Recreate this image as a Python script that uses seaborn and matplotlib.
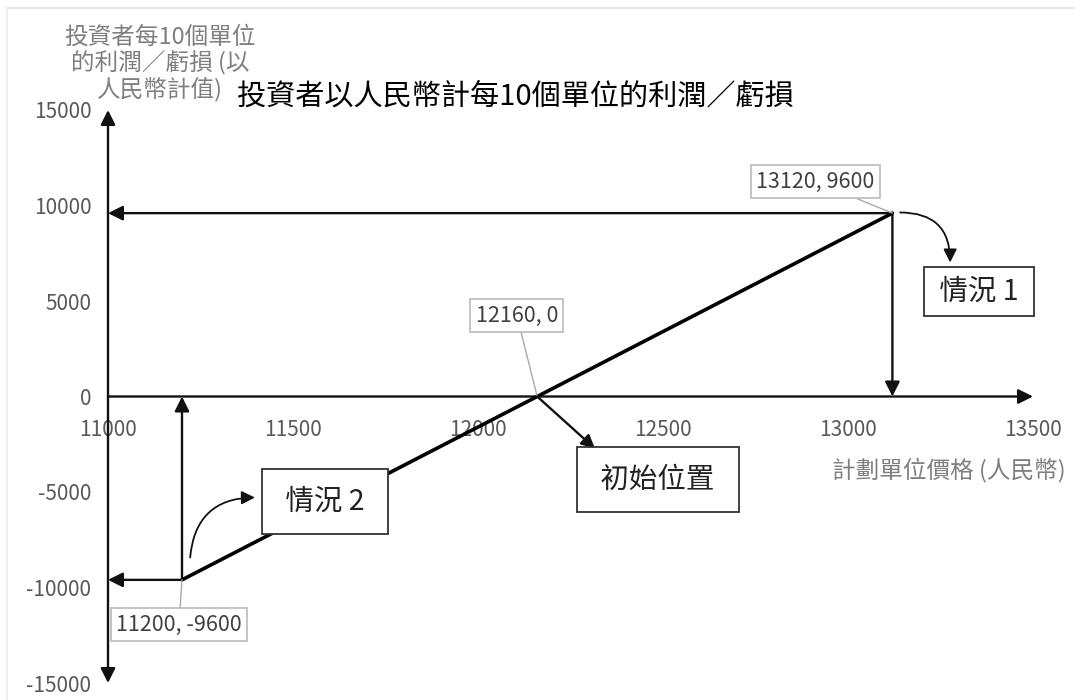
import matplotlib
matplotlib.use("Agg")
import matplotlib.pyplot as plt
import seaborn as sns
import pandas as pd
from matplotlib.lines import Line2D

sns.set_style("white")
plt.rcParams['font.family'] = ['Noto Sans CJK TC', 'DejaVu Sans']
plt.rcParams['axes.unicode_minus'] = False

# ---- data ----
price = [11200, 12160, 13120]
profit = [-9600, 0, 9600]
x_ticks = [11000, 11500, 12000, 12500, 13000, 13500]
y_ticks = [-15000, -10000, -5000, 0, 5000, 10000, 15000]
point_labels = ["11200, -9600", "12160, 0", "13120, 9600"]
case_labels = ["情況 2", "初始位置", "情況 1"]
title = "投資者以人民幣計每10個單位的利潤／虧損"
y_label = "投資者每10個單位\n的利潤／虧損 (以\n人民幣計值)"
x_label = "計劃單位價格 (人民幣)"

df = pd.DataFrame({"price": price, "profit": profit})

W, H = 1075, 700
fig = plt.figure(figsize=(W / 100, H / 100), dpi=100)
ax = fig.add_axes([108 / W, 1 - 683 / H, (1033 - 108) / W, (683 - 110) / H])

xmin, xmax = x_ticks[0], x_ticks[-1]
ymin, ymax = y_ticks[0], y_ticks[-1]
ax.set_xlim(xmin, xmax)
ax.set_ylim(ymin, ymax)

# main line
sns.lineplot(data=df, x="price", y="profit", ax=ax, color="black", lw=2.6,
             zorder=5, legend=False)

# axes
for s in ["top", "right", "left", "bottom"]:
    ax.spines[s].set_visible(False)
ax.spines['bottom'].set_position(('data', 0))
ax.set_xticks(x_ticks)
ax.set_yticks(y_ticks)
ax.tick_params(axis='x', direction='out', length=7, width=1.5, color='#222222',
               labelsize=15, labelcolor='#595959', pad=9)
ax.tick_params(axis='y', direction='out', length=7, width=1.5, color='#222222',
               labelsize=15, labelcolor='#595959', pad=5)
ax.set_xlabel("")
ax.set_ylabel("")

ak = dict(arrowstyle='-|>', color='#111111', lw=1.7, mutation_scale=22,
          shrinkA=0, shrinkB=0)
# x axis with arrow
ax.annotate("", xy=(xmax, 0), xytext=(xmin, 0), arrowprops=ak, zorder=4,
            annotation_clip=False)
# y axis with arrows at both ends
ax.annotate("", xy=(xmin, ymax), xytext=(xmin, 0), arrowprops=ak, zorder=4,
            annotation_clip=False)
ax.annotate("", xy=(xmin, ymin), xytext=(xmin, 0), arrowprops=ak, zorder=4,
            annotation_clip=False)

# projection arrows
x_lo, x_mid, x_hi = price
y_lo, y_mid, y_hi = profit
ax.annotate("", xy=(xmin, y_hi), xytext=(x_hi, y_hi), arrowprops=ak, zorder=4,
            annotation_clip=False)
ax.annotate("", xy=(x_hi, 0), xytext=(x_hi, y_hi), arrowprops=ak, zorder=4)
ax.annotate("", xy=(xmin, y_lo), xytext=(x_lo, y_lo), arrowprops=ak, zorder=4,
            annotation_clip=False)
ax.annotate("", xy=(x_lo, 0), xytext=(x_lo, y_lo), arrowprops=ak, zorder=4)

# data point labels (gray boxes with leader lines)
lbl_box = dict(boxstyle='square,pad=0.25', fc='white', ec='#bfbfbf', lw=1.3)
lbl_pos = [(11192, -11937), (12105, 4241), (12911, 11257)]
for (px, py), (tx, ty), t in zip(zip(price, profit), lbl_pos, point_labels):
    ax.annotate(t, xy=(px, py), xytext=(tx, ty), ha='center', va='center',
                fontsize=15.5, color='#404040', bbox=lbl_box, zorder=6,
                arrowprops=dict(arrowstyle='-', color='#aaaaaa', lw=1.0,
                                shrinkA=0, shrinkB=0))

# case boxes
case_pads = [0.6, 0.62, 0.32]
case_pos = [(11586, -5497), (12486, -4346), (13354, 5497)]
for (cx, cy), t, pd_ in zip(case_pos, case_labels, case_pads):
    ax.text(cx, cy, " " + t + " ", ha='center', va='center', fontsize=20.5,
            color='#222222', zorder=7,
            bbox=dict(boxstyle=f'square,pad={pd_}', fc='white', ec='#333333',
                      lw=1.3))

ck = dict(arrowstyle='-|>', color='#111111', lw=1.3, mutation_scale=20,
          shrinkA=0, shrinkB=0)
# curved arrow to 情況 1
ax.annotate("", xy=(13276, 7016), xytext=(13141, 9634),
            arrowprops=dict(ck, connectionstyle='arc3,rad=-0.5'), zorder=6)
# curved arrow to 情況 2
ax.annotate("", xy=(11397, -5288), xytext=(11222, -8429),
            arrowprops=dict(ck, connectionstyle='arc3,rad=-0.45'), zorder=6)
# straight arrow to 初始位置
ax.annotate("", xy=(12316, -2723), xytext=(x_mid, y_mid),
            arrowprops=dict(ck, lw=1.7), zorder=6)

# titles
fig.text(237 / W, 1 - 96 / H, title, ha='left', va='center', fontsize=21,
         color='black')
fig.text(160 / W, 1 - 64 / H, y_label, ha='center', va='center', fontsize=17,
         color='#7f7f7f', linespacing=1.12)
fig.text(1066 / W, 1 - 470 / H, x_label, ha='right', va='center', fontsize=17,
         color='#7f7f7f')

# faint chart-area border
fig.add_artist(Line2D([7 / W, 1], [1 - 8 / H, 1 - 8 / H], color='#e6e6e6',
                      lw=1.5, transform=fig.transFigure))
fig.add_artist(Line2D([7 / W, 7 / W], [0, 1 - 8 / H], color='#eeeeee',
                      lw=1.5, transform=fig.transFigure))

fig.savefig("out.png", dpi=100)
